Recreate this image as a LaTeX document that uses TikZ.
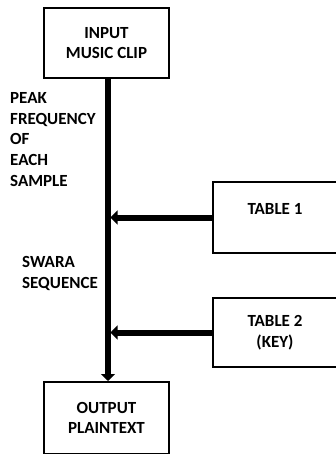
\documentclass[tikz,border=0pt]{standalone}
\usepackage{fontspec}
\setmainfont{Carlito}
\usetikzlibrary{arrows.meta}

\begin{document}
\begin{tikzpicture}[x=1pt, y=-1pt,
		every node/.style={font=\fontsize{17}{20.5}\selectfont\bfseries},
		blockbox/.style={draw, line width=2pt, minimum width=125pt, minimum height=70pt, align=center, inner sep=0pt},
		sidelabel/.style={anchor=base west, align=left, inner sep=0pt},
		flowline/.style={line width=6pt, -{Triangle[length=7pt,width=14pt]}}]
	\clip (0,0) rectangle (336,454);
	\node[blockbox] (input) at (106.5,43) {INPUT\\MUSIC CLIP};
	\node[blockbox, minimum height=72pt] (output) at (106.5,418) {OUTPUT\\PLAINTEXT};
	\node[blockbox, minimum width=124pt, minimum height=71pt] (table1) at (275,217.5) {TABLE 1\\[-10pt]\strut};
	\node[blockbox, minimum width=124pt, minimum height=69pt] (table2) at (275,332.5) {TABLE 2\\(KEY)};
	\node[sidelabel] (peak) at (10,186) {PEAK\\FREQUENCY\\OF\\EACH\\SAMPLE};
	\node[sidelabel] (swara) at (22,288) {SWARA\\SEQUENCE};
	\draw[flowline] ([xshift=1.5pt]input.south) -- ([xshift=1.5pt]output.north);
	\draw[flowline] (table1.west) -- ([xshift=4pt]table1.west -| input.south);
	\draw[flowline] (table2.west) -- ([xshift=4pt]table2.west -| input.south);
\end{tikzpicture}
\end{document}
